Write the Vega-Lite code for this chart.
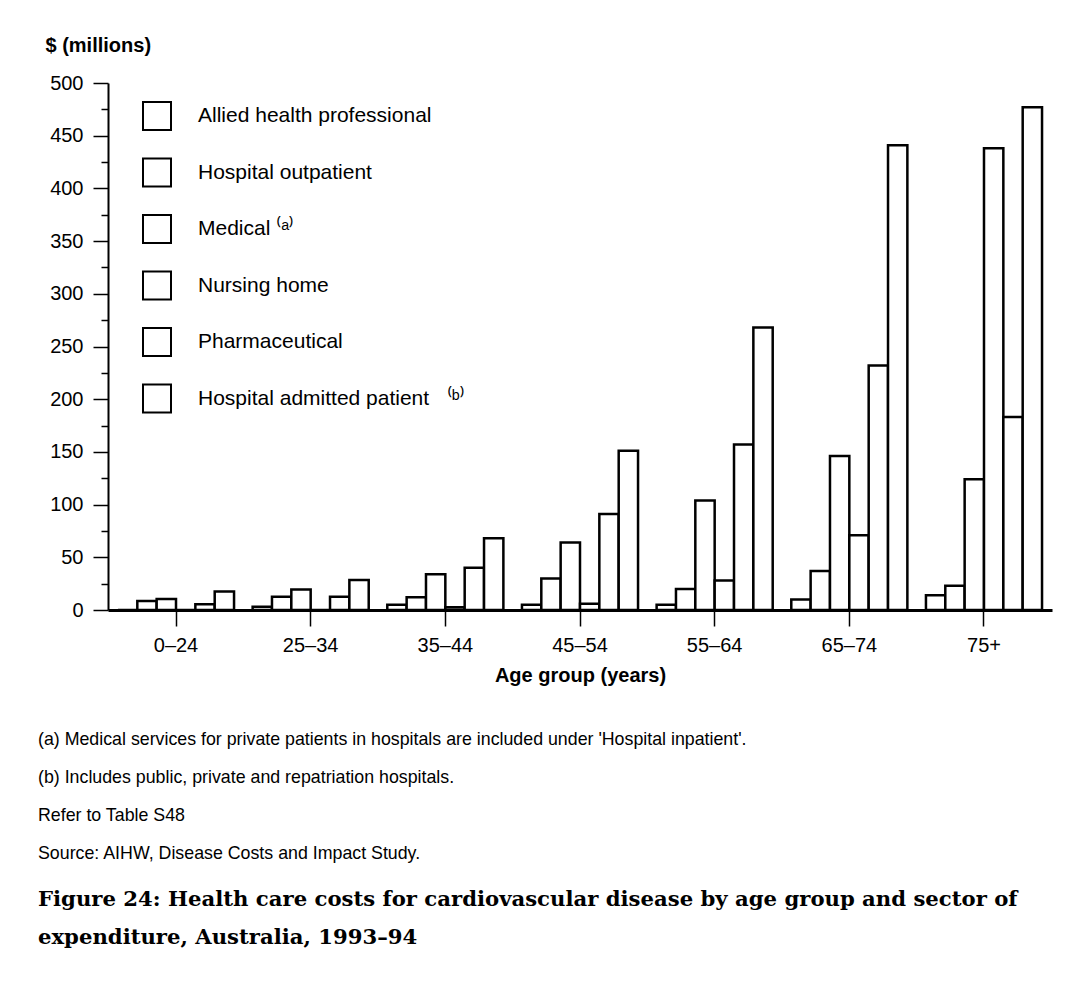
{
  "$schema": "https://vega.github.io/schema/vega-lite/v6.json",
  "width": 944,
  "height": 527,
  "autosize": {"type": "none"},
  "padding": {"left": 108, "top": 83, "right": 33, "bottom": 372},
  "background": "white",
  "config": {"view": {"stroke": null}, "font": "Liberation Sans"},
  "title": {
    "text": [
      "(a) Medical services for private patients in hospitals are included under 'Hospital inpatient'.",
      "(b) Includes public, private and repatriation hospitals.",
      "Refer to Table S48",
      "Source: AIHW, Disease Costs and Impact Study."
    ],
    "orient": "bottom",
    "anchor": "start",
    "frame": "group",
    "dx": -70,
    "offset": 46,
    "font": "Liberation Sans",
    "fontSize": 17.8,
    "fontWeight": "normal",
    "color": "black",
    "lineHeight": 38,
    "subtitle": [
      "Figure 24: Health care costs for cardiovascular disease by age group and sector of",
      "expenditure, Australia, 1993–94"
    ],
    "subtitleFont": "DejaVu Serif",
    "subtitleFontWeight": "bold",
    "subtitleFontSize": 21.2,
    "subtitleColor": "black",
    "subtitleLineHeight": 38,
    "subtitlePadding": 26
  },
  "data": {
    "values": [
      {"age": "0–24", "sector": "Allied health professional", "cost": 0},
      {"age": "0–24", "sector": "Hospital outpatient", "cost": 8.5},
      {"age": "0–24", "sector": "Medical", "cost": 10.5},
      {"age": "0–24", "sector": "Nursing home", "cost": 0},
      {"age": "0–24", "sector": "Pharmaceutical", "cost": 5.5},
      {"age": "0–24", "sector": "Hospital admitted patient", "cost": 17.5},
      {"age": "25–34", "sector": "Allied health professional", "cost": 3},
      {"age": "25–34", "sector": "Hospital outpatient", "cost": 12.5},
      {"age": "25–34", "sector": "Medical", "cost": 19.5},
      {"age": "25–34", "sector": "Nursing home", "cost": 0},
      {"age": "25–34", "sector": "Pharmaceutical", "cost": 12.5},
      {"age": "25–34", "sector": "Hospital admitted patient", "cost": 28.5},
      {"age": "35–44", "sector": "Allied health professional", "cost": 5},
      {"age": "35–44", "sector": "Hospital outpatient", "cost": 12},
      {"age": "35–44", "sector": "Medical", "cost": 34},
      {"age": "35–44", "sector": "Nursing home", "cost": 2.5},
      {"age": "35–44", "sector": "Pharmaceutical", "cost": 40},
      {"age": "35–44", "sector": "Hospital admitted patient", "cost": 68},
      {"age": "45–54", "sector": "Allied health professional", "cost": 5},
      {"age": "45–54", "sector": "Hospital outpatient", "cost": 30},
      {"age": "45–54", "sector": "Medical", "cost": 64},
      {"age": "45–54", "sector": "Nursing home", "cost": 6},
      {"age": "45–54", "sector": "Pharmaceutical", "cost": 91},
      {"age": "45–54", "sector": "Hospital admitted patient", "cost": 151},
      {"age": "55–64", "sector": "Allied health professional", "cost": 5},
      {"age": "55–64", "sector": "Hospital outpatient", "cost": 20},
      {"age": "55–64", "sector": "Medical", "cost": 104},
      {"age": "55–64", "sector": "Nursing home", "cost": 28},
      {"age": "55–64", "sector": "Pharmaceutical", "cost": 157},
      {"age": "55–64", "sector": "Hospital admitted patient", "cost": 268},
      {"age": "65–74", "sector": "Allied health professional", "cost": 10},
      {"age": "65–74", "sector": "Hospital outpatient", "cost": 37},
      {"age": "65–74", "sector": "Medical", "cost": 146},
      {"age": "65–74", "sector": "Nursing home", "cost": 71},
      {"age": "65–74", "sector": "Pharmaceutical", "cost": 232},
      {"age": "65–74", "sector": "Hospital admitted patient", "cost": 441},
      {"age": "75+", "sector": "Allied health professional", "cost": 14},
      {"age": "75+", "sector": "Hospital outpatient", "cost": 23},
      {"age": "75+", "sector": "Medical", "cost": 124},
      {"age": "75+", "sector": "Nursing home", "cost": 438},
      {"age": "75+", "sector": "Pharmaceutical", "cost": 183},
      {"age": "75+", "sector": "Hospital admitted patient", "cost": 477}
    ]
  },
  "mark": {"type": "bar", "stroke": "black", "strokeWidth": 2.5, "cornerRadius": 0},
  "encoding": {
    "x": {
      "field": "age",
      "type": "nominal",
      "sort": ["0–24", "25–34", "35–44", "45–54", "55–64", "65–74", "75+"],
      "scale": {"paddingInner": 0.138, "paddingOuter": 0.074},
      "axis": {
        "title": "Age group (years)",
        "titleFont": "Liberation Sans",
        "titleFontSize": 20,
        "titleFontWeight": "bold",
        "titleColor": "black",
        "titlePadding": 10,
        "labelAngle": 0,
        "labelFont": "Liberation Sans",
        "labelFontSize": 20,
        "labelColor": "black",
        "labelPadding": 9,
        "tickSize": 16,
        "tickWidth": 1.5,
        "tickColor": "black",
        "domainColor": "black",
        "domainWidth": 3,
        "grid": false
      }
    },
    "xOffset": {
      "field": "sector",
      "type": "nominal",
      "sort": ["Allied health professional", "Hospital outpatient", "Medical", "Nursing home", "Pharmaceutical", "Hospital admitted patient"],
      "scale": {"paddingInner": 0, "paddingOuter": 0}
    },
    "y": {
      "field": "cost",
      "type": "quantitative",
      "scale": {"domain": [0, 500], "nice": false},
      "axis": {
        "title": "$ (millions)",
        "titleAngle": 0,
        "titleAlign": "left",
        "titleBaseline": "alphabetic",
        "titleX": -63,
        "titleY": -32,
        "titleFont": "Liberation Sans",
        "titleFontSize": 20,
        "titleFontWeight": "bold",
        "titleColor": "black",
        "values": [0, 25, 50, 75, 100, 125, 150, 175, 200, 225, 250, 275, 300, 325, 350, 375, 400, 425, 450, 475, 500],
        "labelExpr": "datum.value % 50 === 0 ? datum.label : ''",
        "tickSize": {"condition": {"test": "datum.value % 50 === 0", "value": 15}, "value": 7},
        "labelPadding": 10,
        "labelFont": "Liberation Sans",
        "labelFontSize": 20,
        "labelColor": "black",
        "tickColor": "black",
        "tickWidth": 1.5,
        "domainColor": "black",
        "domainWidth": 2,
        "grid": false
      }
    },
    "color": {
      "field": "sector",
      "type": "nominal",
      "sort": ["Allied health professional", "Hospital outpatient", "Medical", "Nursing home", "Pharmaceutical", "Hospital admitted patient"],
      "scale": {"range": ["white", "white", "white", "white", "white", "white"]},
      "legend": {
        "title": null,
        "orient": "none",
        "legendX": 34,
        "legendY": 18,
        "padding": 0,
        "direction": "vertical",
        "symbolType": "square",
        "symbolSize": 784,
        "symbolStrokeColor": "black",
        "symbolStrokeWidth": 2,
        "symbolFillColor": "white",
        "symbolOpacity": 1,
        "labelFont": "Liberation Sans",
        "labelFontSize": 21,
        "labelColor": "black",
        "labelOffset": 26,
        "labelLimit": 500,
        "rowPadding": 20.5,
        "labelExpr": "datum.label === 'Medical' ? 'Medical ⁽ᵃ⁾' : datum.label === 'Hospital admitted patient' ? 'Hospital admitted patient\u00a0\u00a0\u00a0⁽ᵇ⁾' : datum.label"
      }
    }
  }
}
